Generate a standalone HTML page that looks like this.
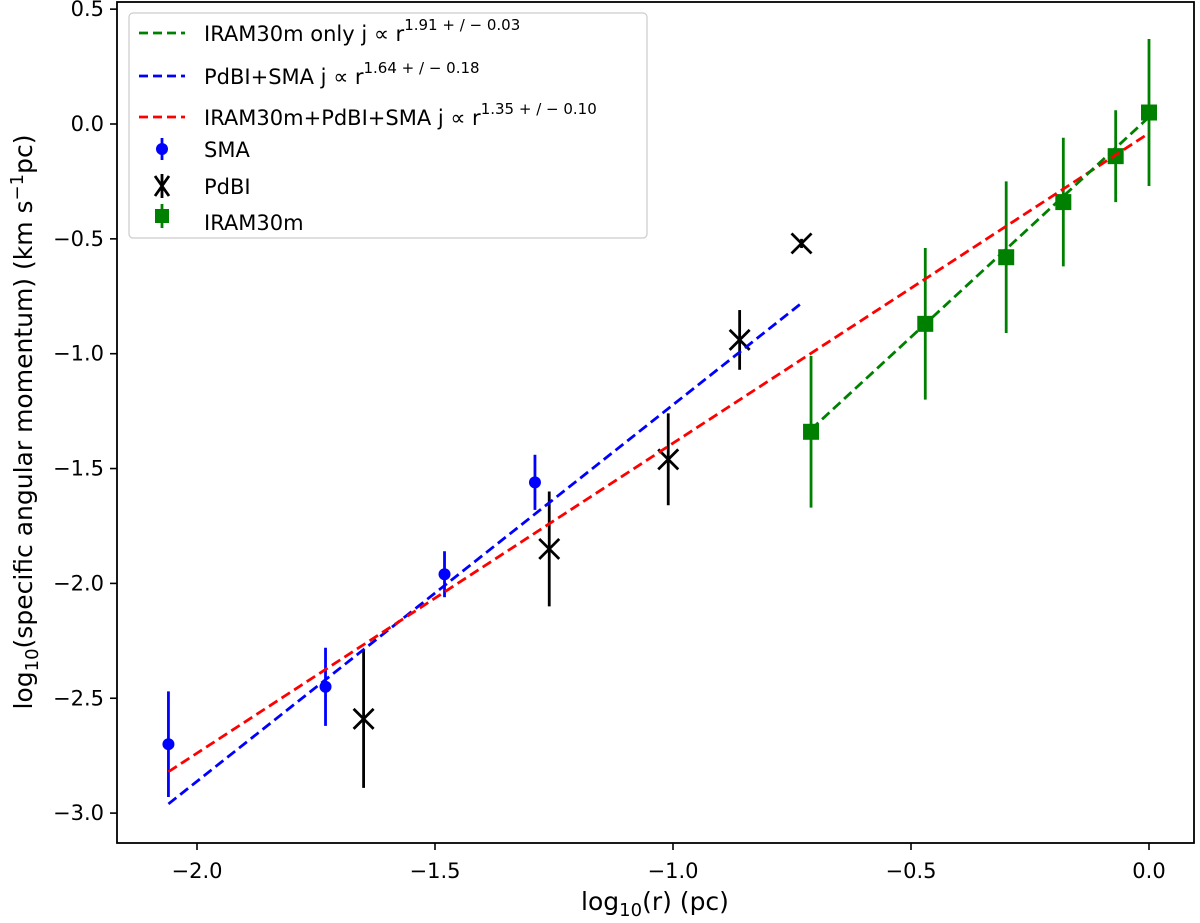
<!DOCTYPE html>
<html><head><meta charset="utf-8"><style>
body{margin:0;background:#fff}
svg text{font-family:"DejaVu Sans","Liberation Sans",sans-serif;fill:#000}
</style></head><body>
<svg id="chart" width="1200" height="918" xmlns="http://www.w3.org/2000/svg">
<g id="marks"></g>
<rect x="117" y="2" width="1077" height="841" fill="none" stroke="#000" stroke-width="1.8"/>
<g id="axes"></g>
<text x="655" y="910" font-size="25" text-anchor="middle">log<tspan font-size="18" dy="6">10</tspan><tspan dy="-6">(r) (pc)</tspan></text>
<text transform="translate(32,422) rotate(-90)" font-size="25" text-anchor="middle">log<tspan font-size="18" dy="6">10</tspan><tspan dy="-6">(specific angular momentum) (km s</tspan><tspan font-size="18" dy="-9">−1</tspan><tspan dy="9">pc)</tspan></text>
<g>
<rect x="129" y="13" width="518" height="225" rx="4" fill="#fff" stroke="#ccc" stroke-width="1.2"/>
<line x1="139" y1="33" x2="185" y2="33" stroke="#008000" stroke-width="2.8" stroke-dasharray="9,5"/>
<text x="204" y="41" font-size="21">IRAM30m only j  ∝  r<tspan font-size="15" dy="-11">1.91 + / − 0.03</tspan></text>
<line x1="139" y1="76" x2="185" y2="76" stroke="#0000ff" stroke-width="2.8" stroke-dasharray="9,5"/>
<text x="204" y="84" font-size="21">PdBI+SMA j  ∝  r<tspan font-size="15" dy="-11">1.64 + / − 0.18</tspan></text>
<line x1="139" y1="117" x2="185" y2="117" stroke="#ff0000" stroke-width="2.8" stroke-dasharray="9,5"/>
<text x="204" y="125" font-size="21">IRAM30m+PdBI+SMA j  ∝  r<tspan font-size="15" dy="-11">1.35 + / − 0.10</tspan></text>
<line x1="162" y1="138" x2="162" y2="160" stroke="#0000ff" stroke-width="2.8"/><circle cx="162" cy="149" r="6" fill="#0000ff"/>
<text x="204" y="157" font-size="21">SMA</text>
<path d="M155,176 L169,196 M169,176 L155,196 M162,174 L162,198" stroke="#000" stroke-width="2.8"/>
<text x="204" y="194" font-size="21">PdBI</text>
<line x1="162" y1="204" x2="162" y2="228" stroke="#008000" stroke-width="2.8"/><rect x="155" y="209" width="14" height="14" fill="#008000"/>
<text x="204" y="230" font-size="21">IRAM30m</text>
</g>
</svg>
<script>
const smaX=[-2.06,-1.73,-1.48,-1.29];
const smaY=[-2.70,-2.45,-1.96,-1.56];
const smaErr=[0.23,0.17,0.10,0.12];
const pdbiX=[-1.65,-1.26,-1.01,-0.86,-0.73];
const pdbiY=[-2.59,-1.85,-1.46,-0.94,-0.52];
const pdbiErr=[0.30,0.25,0.20,0.13,0.02];
const iramX=[-0.71,-0.47,-0.30,-0.18,-0.07,0.0];
const iramY=[-1.34,-0.87,-0.58,-0.34,-0.14,0.05];
const iramErr=[0.33,0.33,0.33,0.28,0.20,0.32];
const fitBlue=[[-2.06,-2.96],[-0.73,-0.78]];
const fitRed=[[-2.06,-2.82],[0.0,-0.04]];
const fitGreen=[[-0.71,-1.33],[0.0,0.03]];
const xTicks=[-2.0,-1.5,-1.0,-0.5,0.0];
const yTicks=[0.5,0.0,-0.5,-1.0,-1.5,-2.0,-2.5,-3.0];
const xTickLabels=["−2.0","−1.5","−1.0","−0.5","0.0"];
const yTickLabels=["0.5","0.0","−0.5","−1.0","−1.5","−2.0","−2.5","−3.0"];
const NS="http://www.w3.org/2000/svg";
function sx(v){return 1149+(v)*476;}
function sy(v){return 124-(v)*229.7;}
const marks=document.getElementById('marks'),axes=document.getElementById('axes');
function mk(tag,attrs,parent){const e=document.createElementNS(NS,tag);for(const k in attrs)e.setAttribute(k,attrs[k]);parent.appendChild(e);return e;}
xTicks.forEach((t,i)=>{
 const l=mk('line',{x1:sx(t),x2:sx(t),y1:843,y2:850,stroke:'#000','stroke-width':1.6},axes);
 
 
 const tx=mk('text',{x:sx(t),y:878,'font-size':21,'text-anchor':'middle'},axes);tx.textContent=xTickLabels[i];
 
 
});
yTicks.forEach((t,i)=>{
 const l=mk('line',{x1:110,x2:117,y1:sy(t),y2:sy(t),stroke:'#000','stroke-width':1.6},axes);
 
 
 const tx=mk('text',{x:104,y:sy(t)+7,'font-size':21,'text-anchor':'end'},axes);tx.textContent=yTickLabels[i];
 
 
});
function fit(f,c,name){const l=mk('line',{x1:sx(f[0][0]),y1:sy(f[0][1]),x2:sx(f[1][0]),y2:sy(f[1][1]),stroke:c,'stroke-width':2.8,'stroke-dasharray':'10,5'},marks);
 
 }
function err(x,y,e,c){const l=mk('line',{x1:sx(x),x2:sx(x),y1:sy(y-e),y2:sy(y+e),stroke:c,'stroke-width':2.8},marks);
 
 }
smaX.forEach((x,i)=>{err(x,smaY[i],smaErr[i],'#0000ff');
 const c=mk('circle',{cx:sx(x),cy:sy(smaY[i]),r:6,fill:'#0000ff'},marks);
 
 });
pdbiX.forEach((x,i)=>{err(x,pdbiY[i],pdbiErr[i],'#000');
 const X=sx(x),Y=sy(pdbiY[i]);
 const p=mk('path',{d:`M${X-10},${Y-10}L${X+10},${Y+10}M${X+10},${Y-10}L${X-10},${Y+10}`,stroke:'#000','stroke-width':2.8},marks);
 
 });
iramX.forEach((x,i)=>{err(x,iramY[i],iramErr[i],'#008000');
 const r=mk('rect',{x:sx(x)-8,y:sy(iramY[i])-8,width:16,height:16,fill:'#008000'},marks);
 
 });
fit(fitBlue,'#0000ff','fit-line-pdbi-sma');
fit(fitRed,'#ff0000','fit-line-all');
fit(fitGreen,'#008000','fit-line-iram');
</script>
</body></html>
